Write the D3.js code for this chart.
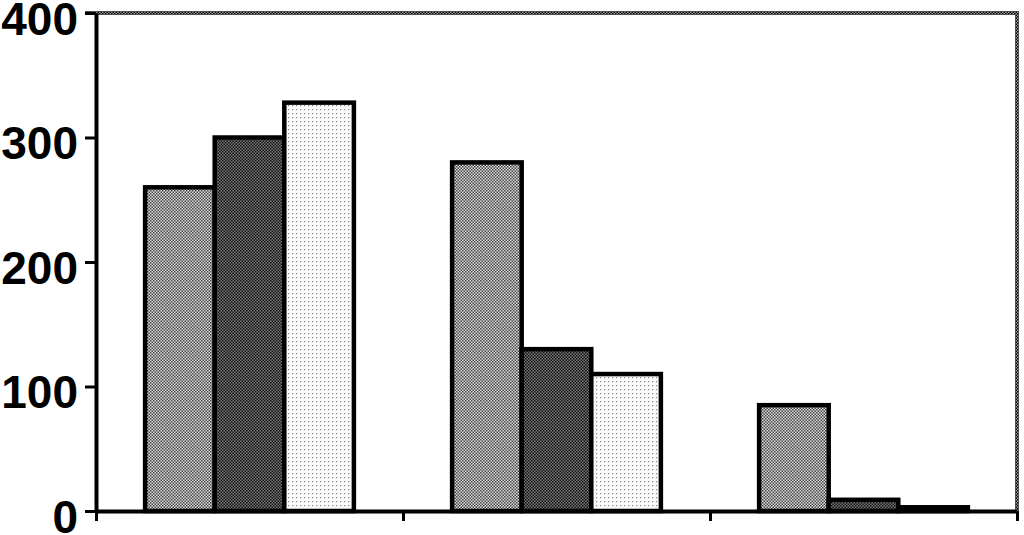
<!DOCTYPE html>
<html>
<head>
<meta charset="utf-8">
<script src="https://cdn.jsdelivr.net/npm/d3@7"></script>
<style>
  html, body { margin: 0; padding: 0; background: #fff; }
  #chart { width: 1024px; height: 535px; }
  .y-axis text { font-family: "Liberation Sans", Arial, sans-serif; font-weight: bold; font-size: 46px; fill: #000; }
</style>
</head>
<body>
<div id="chart"></div>
<script>
// dados
const groups = ['G1', 'G2', 'G3'];
const seriesNames = ['S1', 'S2', 'S3'];
const series1 = [260, 280, 85];
const series2 = [300, 130, 9];
const series3 = [328, 110, 3];
const yTicks = [0, 100, 200, 300, 400];

const seriesValues = [series1, series2, series3];

const margin = {top: 13, right: 7, bottom: 24, left: 96};
const width = 1024 - margin.left - margin.right;
const height = 535 - margin.top - margin.bottom;

const root = d3.select('#chart').append('svg')
    .attr('width', 1024)
    .attr('height', 535);

// padrões de preenchimento (tramas)
const defs = root.append('defs');

function checker(id, bg, fg, size) {
    const p = defs.append('pattern')
        .attr('id', id)
        .attr('patternUnits', 'userSpaceOnUse')
        .attr('width', size * 2)
        .attr('height', size * 2);
    p.append('rect').attr('width', size * 2).attr('height', size * 2).attr('fill', bg);
    p.append('rect').attr('width', size).attr('height', size).attr('fill', fg);
    p.append('rect').attr('x', size).attr('y', size).attr('width', size).attr('height', size).attr('fill', fg);
}
checker('pat-mid', '#dcdcdc', '#444', 1.5);
checker('pat-dark', '#777', '#111', 1.5);
checker('pat-hatch', '#999', '#000', 1.5);

const dots = defs.append('pattern')
    .attr('id', 'pat-light')
    .attr('patternUnits', 'userSpaceOnUse')
    .attr('width', 4)
    .attr('height', 4);
dots.append('rect').attr('width', 4).attr('height', 4).attr('fill', '#fafafa');
dots.append('rect').attr('width', 1.2).attr('height', 1.2).attr('fill', '#888');

const fills = ['url(#pat-mid)', 'url(#pat-dark)', 'url(#pat-light)'];

const svg = root.append('g')
    .attr('transform', `translate(${margin.left},${margin.top})`);

// escalas
const x0 = d3.scaleBand()
    .domain(groups)
    .range([0, width])
    .paddingInner(0.32)
    .paddingOuter(0.16);

const x1 = d3.scaleBand()
    .domain(seriesNames)
    .range([0, x0.bandwidth()]);

const y = d3.scaleLinear()
    .domain([0, 400])
    .range([height, 0]);

const xEdge = d3.scaleLinear()
    .domain([0, groups.length])
    .range([0, width]);

// borda superior e direita tracejada
svg.append('line')
    .attr('x1', -11).attr('x2', width + 2)
    .attr('y1', y(400)).attr('y2', y(400))
    .attr('stroke', 'url(#pat-hatch)')
    .attr('stroke-width', 4);
svg.append('line')
    .attr('x1', width).attr('x2', width)
    .attr('y1', y(400)).attr('y2', height)
    .attr('stroke', 'url(#pat-hatch)')
    .attr('stroke-width', 4);

// barras
groups.forEach((g, gi) => {
    seriesNames.forEach((s, si) => {
        const v = seriesValues[si][gi];
        svg.append('rect')
            .attr('class', 'bar')
            .attr('x', x0(g) + x1(s))
            .attr('y', y(v))
            .attr('width', x1.bandwidth())
            .attr('height', height - y(v))
            .attr('fill', fills[si])
            .attr('stroke', '#000')
            .attr('stroke-width', 4.5);
    });
});

// eixo y
const yAxis = svg.append('g')
    .attr('class', 'y-axis')
    .call(d3.axisLeft(y).tickValues(yTicks).tickSize(11).tickPadding(7).tickSizeOuter(0));
yAxis.select('.domain').attr('stroke', '#000').attr('stroke-width', 4);
yAxis.selectAll('.tick line').attr('stroke', '#000').attr('stroke-width', 3);
yAxis.selectAll('.tick text').attr('dy', '0.46em');

// eixo x
const xAxis = svg.append('g')
    .attr('transform', `translate(0,${height})`)
    .call(d3.axisBottom(xEdge).ticks(groups.length).tickFormat('').tickSize(10).tickSizeOuter(0));
xAxis.select('.domain').attr('stroke', '#000').attr('stroke-width', 4);
xAxis.selectAll('.tick line').attr('stroke', '#000').attr('stroke-width', 3);
</script>
</body>
</html>
